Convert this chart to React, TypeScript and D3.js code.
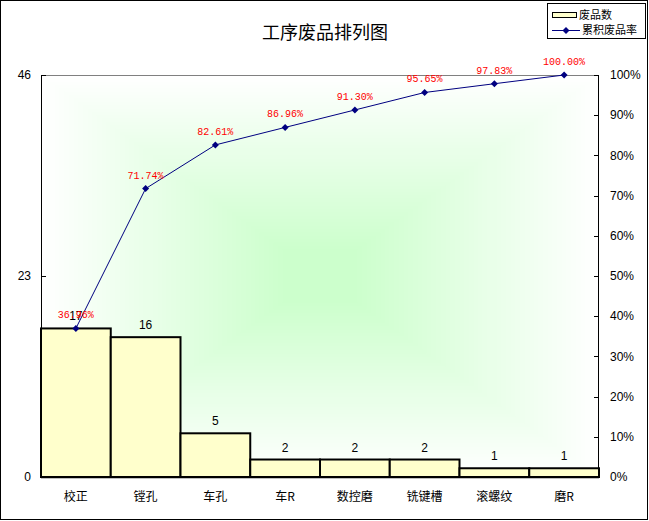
import React from "react";
import * as d3 from "d3";

const categories = ["校正", "镗孔", "车孔", "车R", "数控磨", "铣键槽", "滚螺纹", "磨R"];
const counts = [17, 16, 5, 2, 2, 2, 1, 1];
const cumulativePct = [36.96, 71.74, 82.61, 86.96, 91.3, 95.65, 97.83, 100.0];
const leftTicks = [0, 23, 46];
const rightTicks = [0, 10, 20, 30, 40, 50, 60, 70, 80, 90, 100];
const title = "工序废品排列图";
const legendBar = "废品数";
const legendLine = "累积废品率";

const W = 649;
const H = 521;
const L = 41;
const R = 599;
const T = 75;
const B = 477;

const CJK = "'Noto Sans CJK SC', sans-serif";
const SANS = "'Liberation Sans', Arial, sans-serif";
const MONO = "'Liberation Mono', monospace";

export default function App() {
  const x = d3.scaleBand<string>().domain(categories).range([L, R]).padding(0);
  const yL = d3.scaleLinear().domain([0, 46]).range([B, T]);
  const yR = d3.scaleLinear().domain([0, 100]).range([B, T]);
  const bw = x.bandwidth();
  const cx = (c: string) => (x(c) as number) + bw / 2;

  const line = d3
    .line<number>()
    .x((_, i) => cx(categories[i]))
    .y((d) => yR(d));

  const steps = 60;
  const grad = d3.interpolateRgb("#ffffff", "#ccffcc");
  const pw = R - L;
  const ph = B - T;
  const rings = d3.range(steps).map((i) => {
    const t = i / steps;
    return {
      x: L + (pw / 2) * t,
      y: T + (ph / 2) * t,
      w: pw * (1 - t),
      h: ph * (1 - t),
      c: grad(Math.min(1, t * 1.15)),
    };
  });

  const diamond = "M0,-3.5L3.5,0L0,3.5L-3.5,0Z";

  return (
    <svg
      width={W}
      height={H}
      style={{ position: "absolute", left: 0, top: 0, background: "#fff" }}
    >
      <rect x={0.5} y={0.5} width={W - 2} height={H - 2} fill="#fff" stroke="#000" strokeWidth={1} />
      {rings.map((r, i) => (
        <rect key={i} x={r.x} y={r.y} width={r.w} height={r.h} fill={r.c} />
      ))}
      <text x={325} y={39} textAnchor="middle" fontFamily={CJK} fontSize={18} fill="#000">
        {title}
      </text>

      {/* plot frame */}
      <line x1={L} x2={R} y1={T + 0.5} y2={T + 0.5} stroke="#808080" />

      {/* bars */}
      {categories.map((c, i) => (
        <rect
          key={c}
          x={x(c) as number}
          y={yL(counts[i])}
          width={bw}
          height={B - yL(counts[i])}
          fill="#ffffcc"
          stroke="#000"
          strokeWidth={2}
        />
      ))}
      {categories.map((c, i) => (
        <text key={"v" + c} x={cx(c)} y={yL(counts[i]) - 8} textAnchor="middle" fontFamily={SANS} fontSize={12} fill="#000">
          {counts[i]}
        </text>
      ))}

      {/* axes */}
      <line x1={L + 0.5} x2={L + 0.5} y1={T} y2={B} stroke="#000" />
      <line x1={R - 0.5} x2={R - 0.5} y1={T} y2={B} stroke="#000" />
      <line x1={L} x2={R} y1={B + 0.5} y2={B + 0.5} stroke="#000" strokeWidth={1.5} />
      {leftTicks.map((t) => (
        <g key={"l" + t}>
          <line x1={L} x2={L + 5} y1={Math.round(yL(t)) + 0.5} y2={Math.round(yL(t)) + 0.5} stroke="#000" />
          <text x={31} y={yL(t)} dy="0.35em" textAnchor="end" fontFamily={SANS} fontSize={12} fill="#000">
            {t}
          </text>
        </g>
      ))}
      {rightTicks.map((t) => (
        <g key={"r" + t}>
          <line x1={R - 5} x2={R} y1={Math.round(yR(t)) + 0.5} y2={Math.round(yR(t)) + 0.5} stroke="#000" />
          <text x={610} y={yR(t)} dy="0.35em" textAnchor="start" fontFamily={SANS} fontSize={12} fill="#000">
            {t + "%"}
          </text>
        </g>
      ))}
      {categories.map((c) => (
        <text key={"c" + c} x={cx(c)} y={501} textAnchor="middle" fontFamily={CJK} fontSize={12} fill="#000">
          {c}
        </text>
      ))}

      {/* cumulative line */}
      <path d={line(cumulativePct) || ""} fill="none" stroke="#000080" strokeWidth={1} />
      {cumulativePct.map((p, i) => (
        <path key={"m" + i} d={diamond} transform={`translate(${cx(categories[i])},${yR(p)})`} fill="#000080" />
      ))}
      {cumulativePct.map((p, i) => (
        <text key={"p" + i} x={cx(categories[i])} y={yR(p) - 10} textAnchor="middle" fontFamily={MONO} fontSize={10} fill="#ff0000">
          {p.toFixed(2) + "%"}
        </text>
      ))}

      {/* legend */}
      <rect x={547.5} y={3.5} width={98} height={35} fill="#fff" stroke="#000" strokeWidth={1} />
      <rect x={552.5} y={12.5} width={24} height={5} fill="#ffffcc" stroke="#000" strokeWidth={1} />
      <text x={579} y={19} fontFamily={CJK} fontSize={11} fill="#000">
        {legendBar}
      </text>
      <line x1={552} x2={580} y1={30.5} y2={30.5} stroke="#000080" />
      <path d={diamond} transform="translate(566,30.5)" fill="#000080" />
      <text x={582} y={34} fontFamily={CJK} fontSize={11} fill="#000">
        {legendLine}
      </text>
    </svg>
  );
}
